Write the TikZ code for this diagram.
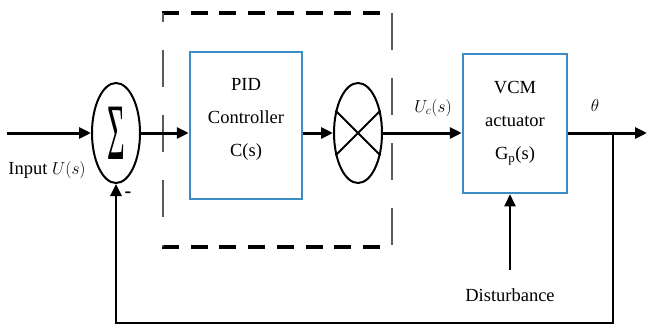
\documentclass[tikz,border=0pt]{standalone}
\usepackage{fontspec}
\setmainfont{Liberation Serif}
\usepackage{graphicx}
\usetikzlibrary{shapes.geometric, arrows.meta, positioning}
\definecolor{blockblue}{HTML}{3C8CC8}
\definecolor{framegray}{HTML}{5A5A5A}

\begin{document}
\begin{tikzpicture}[x=1pt, y=-1pt,
    block/.style = {rectangle, draw=blockblue, line width=2.5pt, fill=white},
    btext/.style = {align=center, font=\fontsize{18.5}{33}\selectfont},
    junc/.style  = {ellipse, draw, line width=2pt, minimum width=48pt,
                    minimum height=100pt, inner sep=0pt},
    sig/.style   = {-{Triangle[length=12pt,width=11pt]}, line width=3pt},
    lbl/.style   = {font=\fontsize{18.5}{20}\selectfont},
    hdash/.style = {line width=3.5pt, dash pattern=on 17pt off 11.7pt},
    vdash/.style = {draw=framegray, line width=1.6pt, dash pattern=on 37pt off 28pt}
  ]
  \useasboundingbox (0,0) rectangle (648,329);

  % -- controller frame --
  \draw[hdash] (162,13) -- (390,13);
  \draw[hdash] (162,247) -- (390,247);
  \draw[vdash, dash phase=28pt] (163,13) -- (163,247);
  \draw[vdash] (392,13) -- (392,247);

  % -- blocks --
  \node[junc] (sum) at (116,133)
       {\scalebox{0.95}[2.5]{\fontsize{32}{32}\selectfont Σ}};
  \node[block, minimum width=112pt, minimum height=147pt] (pid) at (246,125.5) {};
  \node[btext] (pidtext) at (246,119) {PID\\Controller\\C(s)};
  \node[junc] (mult) at (358,133) {};
  \draw[line width=2pt] (mult.45) -- (mult.225) (mult.135) -- (mult.315);
  \node[block, minimum width=104pt, minimum height=139pt] (vcm) at (515,123.5) {};
  \node[btext] (vcmtext) at (515,123.5) {VCM\\actuator\\G$_{\mathrm{p}}$(s)};

  % -- labels --
  \node[lbl] (input) at (47,170) {Input $U(s)$};
  \node[lbl, font=\fontsize{20}{20}\bfseries] (minus) at (128,195) {-};
  \node[lbl] (uc) at (433,108) {$U_c(s)$};
  \node[lbl] (theta) at (595,105) {$\theta$};
  \node[lbl] (dist) at (510,295) {Disturbance};

  % -- signal path --
  \coordinate (in) at (7,133);
  \coordinate (out) at (647,133);
  \coordinate (tap) at (613,133);
  \draw[sig] (in) -- (sum.west);
  \draw[sig] (sum.east) -- (sum.east -| pid.west);
  \draw[sig] (pid.east |- mult.west) -- (mult.west);
  \draw[sig] (mult.east) -- (mult.east -| vcm.west);
  \draw[sig] (vcm.east |- out) -- (out);
  \draw[sig, line width=2.5pt] (tap) -- ++(0,190) -| (sum.south);
  \draw[sig, line width=2pt] ([yshift=15pt]dist.north) -- (dist.north |- vcm.south);
\end{tikzpicture}
\end{document}
